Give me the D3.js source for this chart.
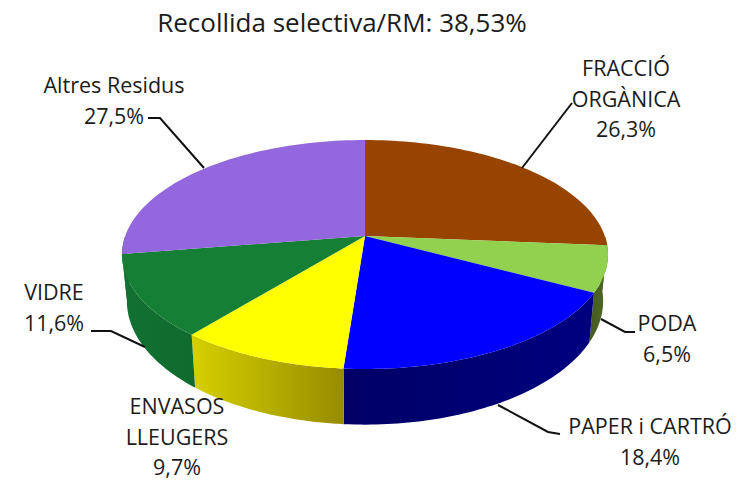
<!DOCTYPE html>
<html><head><meta charset="utf-8"><script src="https://cdn.jsdelivr.net/npm/d3@7"></script>
<style>html,body{margin:0;background:#fff}svg{display:block}text{font-family:"Open Sans",sans-serif;fill:#1c1c1c}</style></head>
<body><svg id="c" width="747" height="480"></svg>
<script>
const categories=["FRACCIÓ ORGÀNICA","PODA","PAPER i CARTRÓ","ENVASOS LLEUGERS","VIDRE","Altres Residus"];
const values=[26.3,6.5,18.4,9.7,11.6,27.5];
const labels=["26,3%","6,5%","18,4%","9,7%","11,6%","27,5%"];
const colors=["#964400","#92d050","#0000ff","#ffff00","#157f35","#9367dd"];
const sideFrom=["#4e6a26","#4e6a26","#00007f","#d6d000","#127232","#127232"];
const sideTo=["#4e6a26","#465a20","#000066","#968c00","#0f6a2e","#127232"];
const title="Recollida selectiva/RM: 38,53%";
const labelLines=[["FRACCIÓ","ORGÀNICA","26,3%"],["PODA","6,5%"],["PAPER i CARTRÓ","18,4%"],["ENVASOS","LLEUGERS","9,7%"],["VIDRE","11,6%"],["Altres Residus","27,5%"]];
const labelPos=[[626,76],[667,331],[650,434],[177,414],[54,300],[114,93]];
const leaders=[[[572,103],[522,168]],[[635,332],[625,332],[601,319]],[[560,434],[548,432],[498,405]],[],[[91,331],[111,331],[145,347]],[[148,118],[160,118],[204,168]]];
const svg=d3.select("#c");
const cx=365,cy=236,R=239.8,S=111.5,k=0.1616,bx=0.98,by=1.08,drop=45;
// perspective projection of a tilted disc: near edge drawn larger than far edge
const proj=a=>{const u=Math.sin(a),v=-Math.cos(a),w=1-k*v;return [R*u/w,S*v/w];};
const rim=a=>{const [x,y]=proj(a);return [cx+x,cy+y];};
const base=a=>{const [x,y]=proj(a);return [cx+bx*x,cy+drop+by*y];};
const pie=d3.pie().value(d=>d).sort(null)(values);
const steps=(a0,a1)=>d3.range(0,61).map(t=>a0+(a1-a0)*t/60);
const line=d3.line();
const defs=svg.append("defs");
pie.forEach((s,i)=>{
  const a0=Math.max(s.startAngle,Math.PI*0.5),a1=Math.min(s.endAngle,Math.PI*1.5);
  if(a1<=a0)return;
  const topPts=steps(a0,a1).map(rim),basePts=steps(a0,a1).map(base).reverse();
  const xs=topPts.concat(basePts).map(p=>p[0]);
  const gr=defs.append("linearGradient").attr("id","g"+i).attr("gradientUnits","userSpaceOnUse")
    .attr("x1",d3.min(xs)).attr("x2",d3.max(xs)).attr("y1",0).attr("y2",0);
  const cols=(d3.mean(xs)<cx)?[sideFrom[i],sideTo[i]]:[sideTo[i],sideFrom[i]];
  gr.append("stop").attr("offset","0%").attr("stop-color",cols[0]);
  gr.append("stop").attr("offset","100%").attr("stop-color",cols[1]);
  svg.append("path").attr("d",line(topPts.concat(basePts))+"Z").attr("fill",`url(#g${i})`);
});
svg.selectAll("path.top").data(pie).join("path").attr("class","top")
  .attr("d",s=>line([[cx,cy]].concat(steps(s.startAngle,s.endAngle).map(rim)))+"Z")
  .attr("fill",(d,i)=>colors[i]);
leaders.forEach(l=>{if(l.length)svg.append("path").attr("d",line(l)).attr("fill","none").attr("stroke","#111").attr("stroke-width",2);});
svg.append("text").attr("x",342).attr("y",32).attr("text-anchor","middle").attr("font-size",26).text(title);
labelLines.forEach((ls,i)=>{const t=svg.append("text").attr("text-anchor","middle").attr("font-size",21.5);
 ls.forEach((l,j)=>t.append("tspan").attr("x",labelPos[i][0]).attr("y",labelPos[i][1]+j*30.5).text(l));});
</script></body></html>
